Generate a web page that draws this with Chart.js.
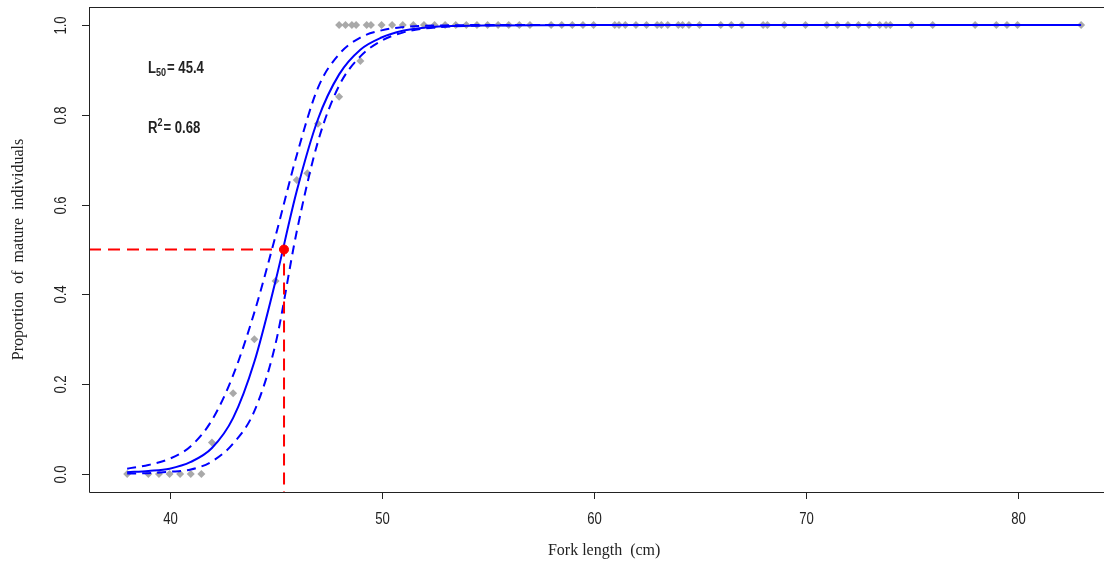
<!DOCTYPE html>
<html>
<head>
<meta charset="utf-8">
<script src="https://cdn.jsdelivr.net/npm/chart.js@4.4.1/dist/chart.umd.min.js"></script>
<style>
  html, body { margin: 0; padding: 0; background: #fff; }
  #wrap { width: 1104px; height: 572px; }
</style>
</head>
<body>
<div id="wrap"><canvas id="chart" width="1104" height="572"></canvas></div>
<script>
// observed proportions (gray diamonds)
const obsLength = [
  38, 39, 39.5, 40, 40.5, 41, 41.5,
  42, 43, 44, 45, 46, 46.5, 47, 48, 49,
  48, 48.3, 48.6, 48.8, 49.3, 49.5, 50, 50.5, 51, 51.5, 52, 52.5, 53, 53.5, 54, 54.5,
  55, 55.5, 56, 56.5, 57, 58, 58.5, 59, 59.5, 60, 61, 61.2, 61.5, 62, 62.5, 63, 63.2,
  63.5, 64, 64.2, 64.5, 65, 66, 66.5, 67, 68, 68.2, 69, 70, 71, 71.5, 72, 72.5, 73,
  73.5, 73.8, 74, 75, 76, 78, 79, 79.5, 80, 83
];
const obsProp = [
  0, 0, 0, 0, 0, 0, 0,
  0.07, 0.18, 0.30, 0.43, 0.655, 0.67, 0.78, 0.84, 0.92,
  1, 1, 1, 1, 1, 1, 1, 1, 1, 1, 1, 1, 1, 1, 1, 1,
  1, 1, 1, 1, 1, 1, 1, 1, 1, 1, 1, 1, 1, 1, 1, 1, 1,
  1, 1, 1, 1, 1, 1, 1, 1, 1, 1, 1, 1, 1, 1, 1, 1, 1,
  1, 1, 1, 1, 1, 1, 1, 1, 1, 1
];

// fitted logistic curve and confidence band
const fitLength = [38, 39, 40, 41, 42, 43, 44, 45, 46, 47, 48, 49, 50, 51, 52, 53, 55, 60, 83];
const fitProp   = [0.004, 0.007, 0.012, 0.027, 0.058, 0.125, 0.25, 0.43, 0.63, 0.79, 0.89, 0.945, 0.972, 0.987, 0.994, 0.997, 0.999, 1, 1];
const upperProp = [0.012, 0.02, 0.034, 0.062, 0.12, 0.22, 0.36, 0.53, 0.71, 0.86, 0.935, 0.972, 0.988, 0.995, 0.998, 0.999, 1, 1, 1];
const lowerProp = [0.001, 0.002, 0.005, 0.01, 0.028, 0.068, 0.14, 0.29, 0.54, 0.74, 0.865, 0.93, 0.965, 0.983, 0.992, 0.996, 0.999, 1, 1];

const L50 = 45.4;
const R2 = 0.68;

const xTicks = [40, 50, 60, 70, 80];
const yTicks = [0, 0.2, 0.4, 0.6, 0.8, 1.0];
const yTickLabels = ["0.0", "0.2", "0.4", "0.6", "0.8", "1.0"];

const X_MIN = 36.2, X_MAX = 84.08, Y_MIN = -0.04, Y_MAX = 1.04;

const pts = (xs, ys) => xs.map((v, i) => ({ x: v, y: ys[i] }));

const sans = '"Liberation Sans", Arial, sans-serif';
const tickFont = "16px " + sans;
const titleFont = '16px "Liberation Serif", "Times New Roman", serif';
const NARROW = 0.82; // no narrow font installed, squeeze instead

function narrowText(ctx, text, x, y) {
  ctx.save();
  ctx.translate(x, y);
  ctx.scale(NARROW, 1);
  ctx.fillText(text, 0, 0);
  ctx.restore();
}

// R-style box, ticks, labels and the L50 / R2 notes
const rAxes = {
  id: "rAxes",
  afterDraw(chart) {
    const { ctx, chartArea: a, scales: { x, y } } = chart;
    ctx.save();
    ctx.strokeStyle = "#222";
    ctx.lineWidth = 1;
    ctx.beginPath();
    ctx.moveTo(a.left + 0.5, a.top + 0.5);
    ctx.lineTo(chart.width, a.top + 0.5);
    ctx.moveTo(a.left + 0.5, a.top);
    ctx.lineTo(a.left + 0.5, a.bottom + 0.5);
    ctx.lineTo(chart.width, a.bottom + 0.5);
    ctx.stroke();

    ctx.fillStyle = "#222";
    ctx.font = tickFont;
    ctx.textAlign = "center";
    ctx.textBaseline = "middle";
    xTicks.forEach((v) => {
      const px = Math.round(x.getPixelForValue(v)) + 0.5;
      ctx.beginPath();
      ctx.moveTo(px, a.bottom);
      ctx.lineTo(px, a.bottom + 7);
      ctx.stroke();
      narrowText(ctx, String(v), px, a.bottom + 28);
    });
    yTicks.forEach((v, i) => {
      const py = Math.round(y.getPixelForValue(v)) + 0.5;
      ctx.beginPath();
      ctx.moveTo(a.left - 7, py);
      ctx.lineTo(a.left, py);
      ctx.stroke();
      ctx.save();
      ctx.translate(a.left - 27, py);
      ctx.rotate(-Math.PI / 2);
      narrowText(ctx, yTickLabels[i], 0, 0);
      ctx.restore();
    });

    ctx.font = titleFont;
    ctx.fillText("Fork length  (cm)", x.getPixelForValue((X_MIN + 84.8) / 2), a.bottom + 59);
    ctx.save();
    ctx.translate(19, (a.top + a.bottom) / 2);
    ctx.rotate(-Math.PI / 2);
    ctx.fillText("Proportion  of  mature  individuals", 0, 0);
    ctx.restore();

    // notes
    ctx.textAlign = "left";
    ctx.textBaseline = "alphabetic";
    const big = "bold 16px " + sans;
    const small = "bold 11px " + sans;
    let tx = 148;
    ctx.font = big;
    narrowText(ctx, "L", tx, 73);
    tx += ctx.measureText("L").width * NARROW;
    ctx.font = small;
    narrowText(ctx, "50", tx, 76);
    tx += ctx.measureText("50").width * NARROW + 1;
    ctx.font = big;
    narrowText(ctx, "= " + L50.toFixed(1), tx, 73);

    tx = 148;
    narrowText(ctx, "R", tx, 133);
    tx += ctx.measureText("R").width * NARROW;
    ctx.font = small;
    narrowText(ctx, "2", tx, 126);
    tx += ctx.measureText("2").width * NARROW + 1;
    ctx.font = big;
    narrowText(ctx, "= " + R2.toFixed(2), tx, 133);
    ctx.restore();
  },
};

new Chart(document.getElementById("chart").getContext("2d"), {
  type: "scatter",
  data: {
    datasets: [
      {
        label: "L50 point",
        data: [{ x: L50, y: 0.5 }],
        pointStyle: "circle",
        pointRadius: 4.5,
        backgroundColor: "#ff0000",
        borderColor: "#ff0000",
        order: 0,
      },
      {
        label: "L50 guide",
        data: [{ x: X_MIN, y: 0.5 }, { x: L50, y: 0.5 }, { x: L50, y: Y_MIN }],
        showLine: true,
        pointRadius: 0,
        borderColor: "#ff0000",
        borderWidth: 2,
        borderDash: [12, 7],
        order: 1,
      },
      {
        label: "Fit",
        data: pts(fitLength, fitProp),
        showLine: true,
        pointRadius: 0,
        borderColor: "#0000ff",
        borderWidth: 2,
        cubicInterpolationMode: "monotone",
        order: 2,
      },
      {
        label: "Upper",
        data: pts(fitLength, upperProp),
        showLine: true,
        pointRadius: 0,
        borderColor: "#0000ff",
        borderWidth: 2,
        borderDash: [9, 6],
        cubicInterpolationMode: "monotone",
        order: 3,
      },
      {
        label: "Lower",
        data: pts(fitLength, lowerProp),
        showLine: true,
        pointRadius: 0,
        borderColor: "#0000ff",
        borderWidth: 2,
        borderDash: [9, 6],
        cubicInterpolationMode: "monotone",
        order: 4,
      },
      {
        label: "Observed",
        data: pts(obsLength, obsProp),
        pointStyle: "rectRot",
        pointRadius: 4,
        backgroundColor: "#a9a9a9",
        borderColor: "#a9a9a9",
        borderWidth: 0,
        order: 5,
      },
    ],
  },
  options: {
    responsive: false,
    animation: false,
    devicePixelRatio: 1,
    layout: { autoPadding: false, padding: { left: 89, top: 7, right: 0, bottom: 80 } },
    plugins: { legend: { display: false }, tooltip: { enabled: false } },
    scales: {
      x: { type: "linear", min: X_MIN, max: X_MAX, display: false },
      y: { type: "linear", min: Y_MIN, max: Y_MAX, display: false },
    },
    elements: { line: { tension: 0 } },
  },
  plugins: [rAxes],
});
</script>
</body>
</html>
